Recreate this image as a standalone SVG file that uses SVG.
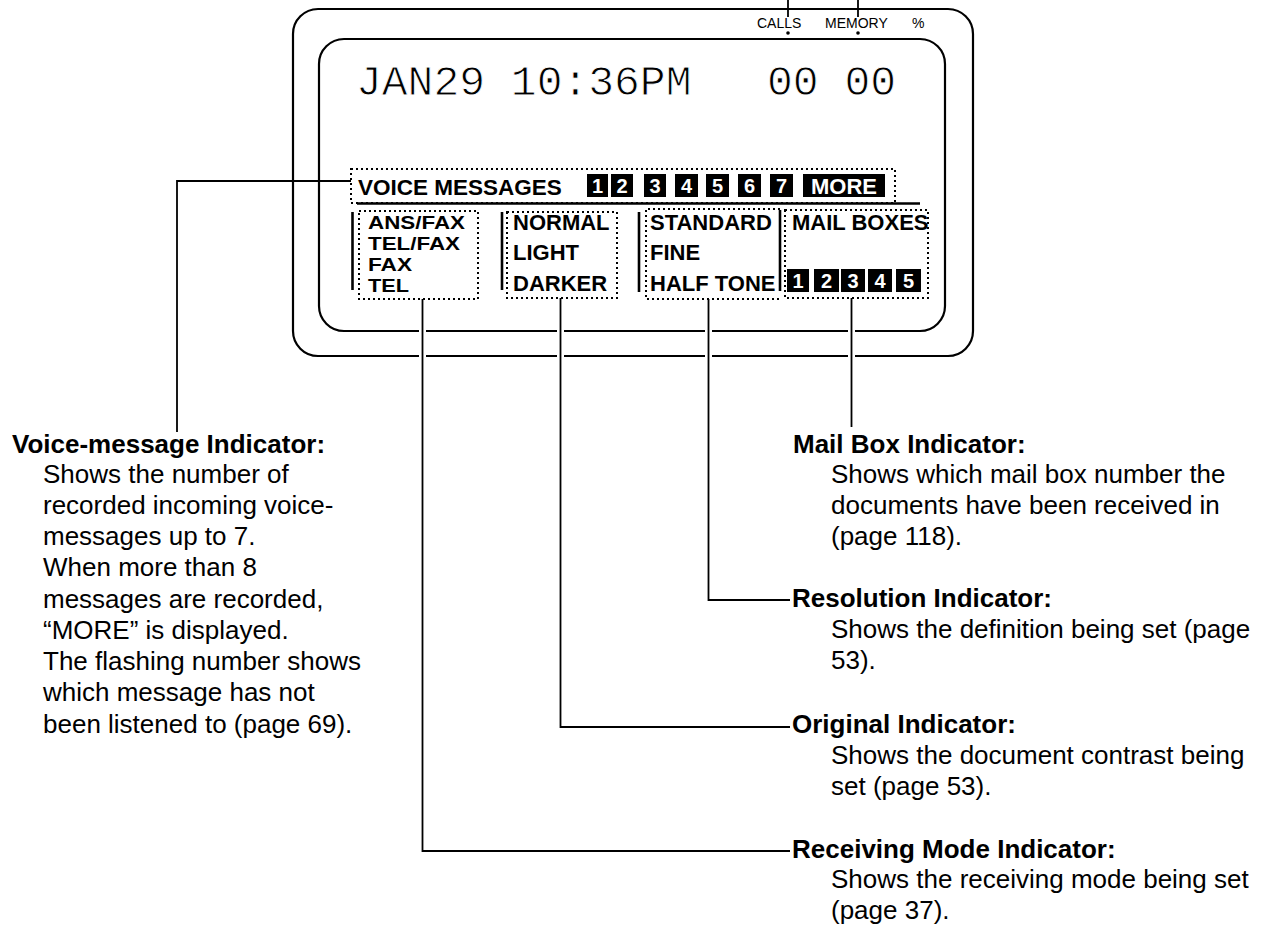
<svg xmlns="http://www.w3.org/2000/svg" width="1270" height="930" viewBox="0 0 1270 930">
  <style>
    .frame { fill: none; stroke: #000; stroke-width: 2.2; }
    .dotbox { fill: none; stroke: #000; stroke-width: 2; stroke-dasharray: 2 3; }
    .bar { stroke: #000; stroke-width: 2.6; fill: none; }
    .conn { fill: none; stroke: #000; stroke-width: 1.8; }
    .halo { fill: none; stroke: #fff; stroke-width: 7; }
    .lcd { font-family: "Liberation Sans", Arial, sans-serif; font-weight: bold; font-size: 22px; fill: #000; }
    .mode { font-family: "Liberation Sans", Arial, sans-serif; font-weight: bold; font-size: 18px; fill: #000; }
    .seg { font-family: "Liberation Mono", "Courier New", monospace; font-size: 43px; fill: #000; stroke: #fff; stroke-width: 0.9; }
    .small { font-family: "Liberation Sans", Arial, sans-serif; font-size: 14px; fill: #000; }
    .key { fill: #000; }
    .keyt { font-family: "Liberation Sans", Arial, sans-serif; font-weight: bold; font-size: 20px; fill: #fff; text-anchor: middle; }
    .title { font-family: "Liberation Sans", Arial, sans-serif; font-weight: bold; font-size: 26px; fill: #000; }
    .body { font-family: "Liberation Sans", Arial, sans-serif; font-size: 26px; fill: #000; }
  </style>
  <rect width="1270" height="930" fill="#fff"/>

  <g id="display-frame">
    <rect class="frame" x="293" y="9" width="680" height="347" rx="25" ry="25"/>
    <rect class="frame" x="319" y="39" width="626" height="292" rx="25" ry="25"/>
  </g>

  <g id="counters">
    <text class="small" x="757" y="28">CALLS</text>
    <text class="small" x="825" y="28">MEMORY</text>
    <text class="small" x="912" y="28">%</text>
    <circle cx="788" cy="33" r="1.8" fill="#000"/>
    <circle cx="858" cy="33" r="1.8" fill="#000"/>
  </g>

  <g id="lcd-readout">
    <text class="seg" x="356" y="95">JAN29 10:36PM</text>
    <text class="seg" x="767" y="95">00 00</text>
  </g>

  <g id="voice-messages">
    <rect class="dotbox" x="351" y="169" width="544" height="34"/>
    <text class="lcd" x="358" y="195" style="font-size:22.5px">VOICE MESSAGES</text>
    <rect class="key" x="587" y="174" width="21" height="23"/><text class="keyt" x="597.5" y="193">1</text>
    <rect class="key" x="611" y="174" width="22" height="23"/><text class="keyt" x="622" y="193">2</text>
    <rect class="key" x="644" y="174" width="22" height="23"/><text class="keyt" x="655" y="193">3</text>
    <rect class="key" x="675" y="174" width="23" height="23"/><text class="keyt" x="686.5" y="193">4</text>
    <rect class="key" x="706" y="174" width="23" height="23"/><text class="keyt" x="717.5" y="193">5</text>
    <rect class="key" x="738" y="174" width="23" height="23"/><text class="keyt" x="749.5" y="193">6</text>
    <rect class="key" x="770" y="174" width="23" height="23"/><text class="keyt" x="781.5" y="193">7</text>
    <rect class="key" x="803" y="174" width="82" height="23"/><text class="keyt" x="844" y="194" style="font-size:22px">MORE</text>
    <line class="bar" x1="357" y1="203.5" x2="920" y2="203.5"/>
  </g>

  <g id="receiving-mode">
    <line class="bar" x1="352.5" y1="212" x2="352.5" y2="290"/>
    <rect class="dotbox" x="359" y="211" width="119" height="88"/>
    <text class="mode" x="368" y="228.5" textLength="97" lengthAdjust="spacingAndGlyphs">ANS/FAX</text>
    <text class="mode" x="368" y="249.5" textLength="92" lengthAdjust="spacingAndGlyphs">TEL/FAX</text>
    <text class="mode" x="368" y="270.5" textLength="44" lengthAdjust="spacingAndGlyphs">FAX</text>
    <text class="mode" x="368" y="291.5" textLength="41" lengthAdjust="spacingAndGlyphs">TEL</text>
  </g>

  <g id="original">
    <line class="bar" x1="502" y1="212" x2="502" y2="290"/>
    <rect class="dotbox" x="507" y="212" width="110" height="86"/>
    <text class="lcd" x="513" y="230">NORMAL</text>
    <text class="lcd" x="513" y="260">LIGHT</text>
    <text class="lcd" x="513" y="291">DARKER</text>
  </g>

  <g id="resolution">
    <line class="bar" x1="639" y1="212" x2="639" y2="292"/>
    <path class="dotbox" d="M780 209 H646 V299 H780"/>
    <line class="bar" x1="780" y1="210" x2="780" y2="291"/>
    <text class="lcd" x="650" y="230">STANDARD</text>
    <text class="lcd" x="650" y="260">FINE</text>
    <text class="lcd" x="650" y="291">HALF TONE</text>
  </g>

  <g id="mail-boxes">
    <rect class="dotbox" x="785" y="210" width="143" height="88"/>
    <text class="lcd" x="792" y="230">MAIL BOXES</text>
    <rect class="key" x="787" y="269" width="22" height="23"/><text class="keyt" x="798" y="288">1</text>
    <rect class="key" x="814" y="269" width="25" height="23"/><text class="keyt" x="826.5" y="288">2</text>
    <rect class="key" x="841" y="269" width="24" height="23"/><text class="keyt" x="853" y="288">3</text>
    <rect class="key" x="868" y="269" width="24" height="23"/><text class="keyt" x="880" y="288">4</text>
    <rect class="key" x="896" y="269" width="25" height="23"/><text class="keyt" x="908.5" y="288">5</text>
  </g>

  <g id="connectors">
    <line class="conn" x1="788" y1="0" x2="788" y2="17"/>
    <line class="conn" x1="858" y1="0" x2="858" y2="17"/>
    <path class="halo" d="M422.5 322 V364 M560.5 322 V364 M708.5 322 V364 M851.5 322 V364"/>
    <path class="conn" d="M351 181 H177 V432"/>
    <path class="conn" d="M422.5 299 V851 H790"/>
    <path class="conn" d="M560.5 298 V727 H790"/>
    <path class="conn" d="M708.5 299 V600 H790"/>
    <path class="conn" d="M851.5 298 V427"/>
  </g>

  <g id="voice-message-indicator">
    <text class="title" x="12" y="453">Voice-message Indicator:</text>
    <text class="body" x="43" y="483">Shows the number of</text>
    <text class="body" x="43" y="514">recorded incoming voice-</text>
    <text class="body" x="43" y="545">messages up to 7.</text>
    <text class="body" x="43" y="576">When more than 8</text>
    <text class="body" x="43" y="608">messages are recorded,</text>
    <text class="body" x="43" y="639">“MORE” is displayed.</text>
    <text class="body" x="43" y="670">The flashing number shows</text>
    <text class="body" x="43" y="701">which message has not</text>
    <text class="body" x="43" y="733">been listened to (page 69).</text>
  </g>

  <g id="mail-box-indicator">
    <text class="title" x="793" y="453">Mail Box Indicator:</text>
    <text class="body" x="831" y="483">Shows which mail box number the</text>
    <text class="body" x="831" y="514">documents have been received in</text>
    <text class="body" x="831" y="545">(page 118).</text>
  </g>

  <g id="resolution-indicator">
    <text class="title" x="792" y="607">Resolution Indicator:</text>
    <text class="body" x="831" y="638">Shows the definition being set (page</text>
    <text class="body" x="831" y="669">53).</text>
  </g>

  <g id="original-indicator">
    <text class="title" x="792" y="733">Original Indicator:</text>
    <text class="body" x="831" y="764">Shows the document contrast being</text>
    <text class="body" x="831" y="795">set (page 53).</text>
  </g>

  <g id="receiving-mode-indicator">
    <text class="title" x="792" y="858">Receiving Mode Indicator:</text>
    <text class="body" x="831" y="888">Shows the receiving mode being set</text>
    <text class="body" x="831" y="919">(page 37).</text>
  </g>
</svg>
